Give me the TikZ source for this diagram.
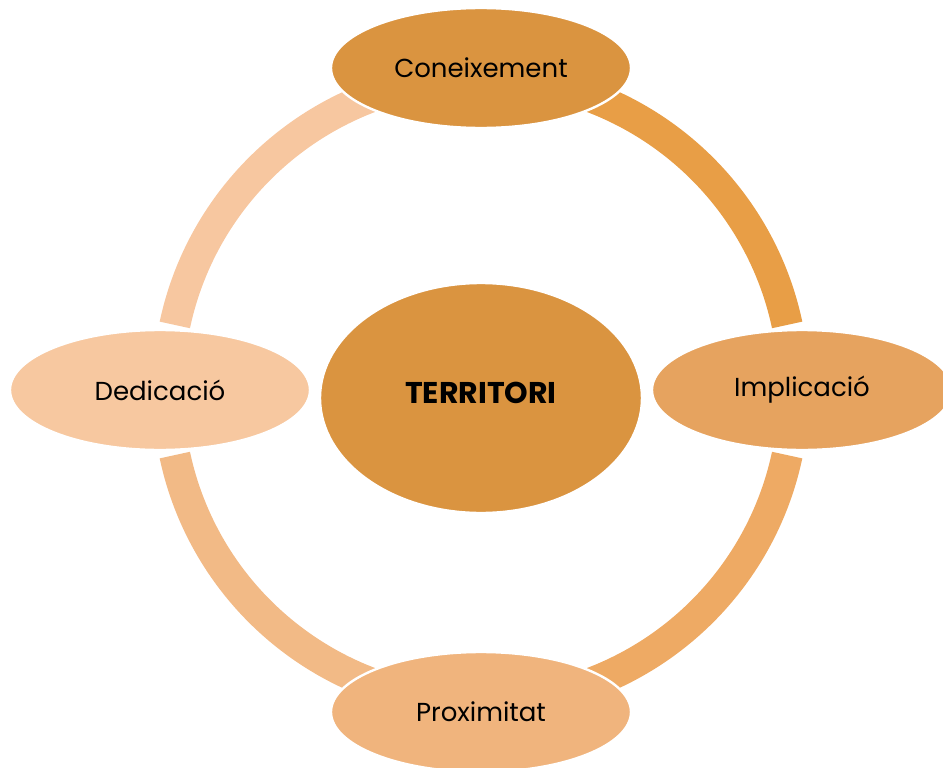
\documentclass[tikz,border=0pt]{standalone}
\usepackage{fontspec}
\setmainfont{Poppins}
\usetikzlibrary{shapes.geometric}
\definecolor{topfill}{HTML}{DA9440}
\definecolor{rightfill}{HTML}{E6A35F}
\definecolor{bottomfill}{HTML}{F0B47D}
\definecolor{leftfill}{HTML}{F7C8A0}
\definecolor{arcone}{HTML}{E89E46}
\definecolor{arctwo}{HTML}{EEAA64}
\definecolor{arcthree}{HTML}{F2BA86}
\definecolor{arcfour}{HTML}{F7C7A0}

\begin{document}
\begin{tikzpicture}[x=.5pt,y=.5pt,
  bubble/.style={ellipse,draw=white,line width=1.2pt,inner sep=0pt,
    minimum width=150pt,minimum height=60pt,font=\fontsize{13}{15}\selectfont},
  ring/.style={line width=15.5pt}]
\useasboundingbox (-481,-377) rectangle (462,390);
\coordinate (c) at (0,0);
% ring pieces, gaps left at the side nodes
\draw[ring,arcone] (c) ++(12:313) arc[start angle=12,end angle=90,radius=313];
\draw[ring,arctwo] (c) ++(-90:313) arc[start angle=-90,end angle=-12,radius=313];
\draw[ring,arcthree] (c) ++(192:313) arc[start angle=192,end angle=270,radius=313];
\draw[ring,arcfour] (c) ++(90:313) arc[start angle=90,end angle=168,radius=313];
% nodes
\node[bubble,fill=topfill] (coneix) at (0,322) {Coneixement};
\node[bubble,fill=rightfill] (implic) at (321,0) {Implicació};
\node[bubble,fill=bottomfill] (proxim) at (0,-322) {Proximitat};
\node[bubble,fill=leftfill] (dedic) at (-321,0) {Dedicació};
\node[bubble,fill=topfill,minimum width=161pt,minimum height=115pt,
  font=\fontsize{15}{17}\selectfont\bfseries] (terr) at (0,-8) {\raisebox{5pt}{TERRITORI}};
\end{tikzpicture}
\end{document}
